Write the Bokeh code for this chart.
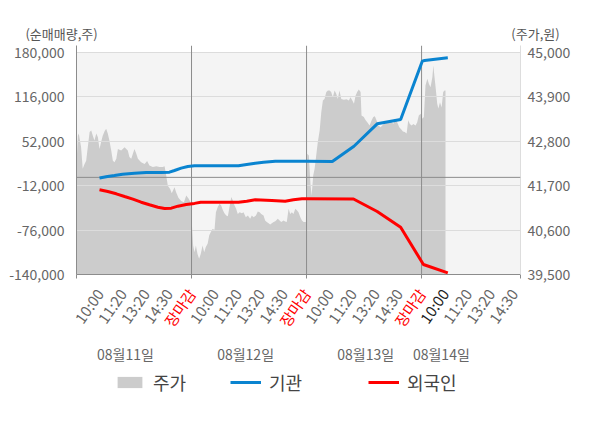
import numpy as np
from bokeh.plotting import figure
from bokeh.layouts import column
from bokeh.models import (Range1d, LinearAxis, FixedTicker, NumeralTickFormatter, Span,
                          BoxAnnotation, ColumnDataSource, Legend, LegendItem)
from bokeh.embed import file_html
from bokeh.resources import INLINE
from bokeh.core.properties import value

FONT = "Noto Sans CJK KR"

# ---------------- data ----------------
dates = ["08월11일", "08월12일", "08월13일", "08월14일"]
day_bounds = [0, 5, 10, 15]
time_labels = ["10:00", "11:20", "13:20", "14:30", "장마감"] * 3 + ["10:00", "11:20", "13:20", "14:30"]
time_pos = list(range(1, 20))
date_pos = [2.13, 7.35, 12.57, 15.86]

left_ticks = [-140000, -76000, -12000, 52000, 116000, 180000]
right_ticks = [39500, 40600, 41700, 42800, 43900, 45000]

price_t = [0.00, 0.06, 0.10, 0.20, 0.27, 0.35, 0.42, 0.49, 0.57, 0.64, 0.71, 0.78, 0.86, 0.93, 1.00, 1.07,
           1.14, 1.22, 1.29, 1.36, 1.43, 1.51, 1.58, 1.65, 1.73, 1.80, 1.94, 2.09, 2.23, 2.30, 2.38, 2.45,
           2.52, 2.60, 2.67, 2.81, 2.96, 3.07, 3.17, 3.32, 3.47, 3.61, 3.75, 3.83, 3.90, 3.97, 4.07, 4.14,
           4.26, 4.33, 4.43, 4.55, 4.67, 4.77, 4.87, 4.96,
           5.01, 5.07, 5.13, 5.19, 5.26, 5.33, 5.40, 5.48, 5.55, 5.62, 5.70, 5.77, 5.84, 5.91, 6.00, 6.06,
           6.14, 6.22, 6.29, 6.36, 6.43, 6.51, 6.58, 6.65, 6.73, 6.80, 6.87, 6.94, 7.01, 7.09, 7.19, 7.26,
           7.36, 7.45, 7.55, 7.62, 7.70, 7.80, 7.88, 7.96, 8.03, 8.13, 8.20, 8.27, 8.35, 8.42, 8.49, 8.57,
           8.64, 8.75, 8.83, 8.90, 9.00, 9.07, 9.14, 9.22, 9.29, 9.36, 9.43, 9.51, 9.58, 9.65, 9.73, 9.80,
           9.87, 9.97,
           10.03, 10.10, 10.17, 10.22, 10.29, 10.35, 10.42, 10.49, 10.57, 10.64, 10.71, 10.78, 10.86, 10.93,
           11.00, 11.07, 11.14, 11.22, 11.29, 11.36, 11.43, 11.51, 11.62, 11.74, 11.84, 11.91, 11.99, 12.06,
           12.13, 12.20, 12.27, 12.35, 12.39, 12.49, 12.57, 12.64, 12.74, 12.83, 12.90, 12.97, 13.04, 13.12,
           13.22, 13.29, 13.36, 13.48, 13.58, 13.65, 13.77, 13.84, 13.94, 14.03, 14.12, 14.19, 14.27, 14.35,
           14.42, 14.49, 14.57, 14.64, 14.74, 14.81, 14.88, 14.96, 15.03, 15.10,
           15.17, 15.25, 15.32, 15.39, 15.47, 15.51, 15.57, 15.61, 15.68, 15.73, 15.80, 15.87, 15.94, 16.00,
           16.04]
price = [42240, 42940, 42990, 42650, 42120, 42240, 42320, 42650, 43030, 43070, 42940, 42820, 42990, 42900,
         42610, 42780, 42940, 43050, 43110, 42990, 42820, 42570, 42320, 42280, 42370, 42610, 42570, 42650,
         42570, 42410, 42370, 42490, 42610, 42490, 42370, 42280, 42240, 42310, 42200, 42160, 42180, 42160,
         42160, 42180, 41950, 41700, 41620, 41510, 41660, 41540, 41400, 41320, 41290, 41460, 41380, 41290,
         40800, 40220, 40050, 40220, 40010, 39890, 40010, 40220, 40050, 40180, 40260, 40470, 40550, 40630,
         40610, 41040, 41170, 41250, 41210, 41100, 41020, 40960, 40940, 41170, 41420, 41330, 41210, 41130,
         41000, 41040, 41020, 41040, 40920, 40960, 40880, 40960, 40920, 40960, 41060, 41040, 41000, 40960,
         40840, 40800, 40770, 40740, 40770, 40800, 40820, 40880, 40840, 40800, 40840, 40810, 40800, 41130,
         41000, 41040, 41000, 41130, 41090, 41040, 40920, 40840, 40800, 40800,
         42490, 42450, 41750, 41450, 41950, 42120, 42450, 42780, 43070, 43520, 43810, 43850, 44020, 44060,
         44060, 44020, 43890, 44060, 43980, 43850, 44060, 43850, 43830, 43840, 43810, 43890, 43810, 43730,
         43930, 44020, 44080, 44020, 43440, 43400, 43320, 43270, 43190, 43320, 43400, 43420, 43320, 43190,
         43150, 43190, 43230, 43270, 43270, 43320, 43230, 43360, 43270, 43150, 43090, 43040, 43030, 42990,
         43320, 43230, 43190, 43230, 43190, 43270, 43440, 43480, 43360, 43400,
         44180, 44350, 44220, 44140, 44390, 44680, 44350, 44140, 43730, 43610, 43770, 43640, 44020, 44060,
         44060]

inst_t = [1.00, 1.35, 1.65, 2.00, 2.52, 3.03, 3.68, 4.04, 4.26, 4.55, 4.84, 5.13, 7.04, 7.40, 7.77, 8.13,
          8.64, 10.00, 11.12, 12.06, 13.07, 14.09, 15.03, 15.13, 16.14]
inst = [-1000, 1300, 2700, 4600, 6000, 7000, 7000, 7500, 9900, 13300, 15700, 16700, 16700, 18600, 20500,
        21900, 23300, 23300, 23000, 44900, 77200, 83400, 167500, 168500, 172300]

frgn_t = [1.00, 1.36, 1.73, 2.09, 2.45, 2.81, 3.17, 3.54, 3.83, 4.12, 4.41, 4.77, 5.13, 5.40, 7.04, 7.40,
          7.77, 8.49, 9.07, 9.43, 9.80, 10.00, 12.04, 13.07, 14.09, 15.08, 16.14]
frgn = [-17900, -20400, -23700, -27600, -31400, -35800, -39500, -43000, -44900, -44400, -41500, -39100,
        -37500, -35800, -35800, -34300, -32300, -33300, -34300, -32300, -30900, -30700, -31200, -49200,
        -71800, -125600, -137600]

# ---------------- geometry ----------------
W = 600
LEFT, FRAME_W, FRAME_H = 76, 444, 229
HEADER_H, CHART_TOP, CHART_BOTTOM = 42, 3, 9
FOOTER_H = 428 - HEADER_H - CHART_TOP - FRAME_H - CHART_BOTTOM
X_END = 19.3
PPS = FRAME_W / X_END  # pixels per slot

GRAY_TXT = "#666666"
AX_LINE = "#8c8c8c"
INST_COLOR, FRGN_COLOR, AREA_COLOR = "#0a84d0", "#ff0000", "#cccccc"


def strip(width, height, xr, yr):
    f = figure(width=width, height=height, x_range=xr, y_range=yr,
               min_border=0, x_axis_type=None, y_axis_type=None, output_backend="svg",
               toolbar_location=None, outline_line_color=None, background_fill_color="white",
               border_fill_color="white", frame_align=False)
    f.grid.visible = False
    return f


# ---------------- header ----------------
hdr = strip(W, HEADER_H, Range1d(0, W), Range1d(HEADER_H, 0))
hdr.text(x=[61, 535], y=[33, 33], text=["(순매매량,주)", "(주가,원)"], text_align="center",
         text_baseline="middle", text_font=value(FONT), text_font_size="13px", text_color="#555555")

# ---------------- chart ----------------
p = figure(frame_width=FRAME_W, frame_height=FRAME_H,
           min_border_left=LEFT, min_border_right=W - LEFT - FRAME_W, min_border_top=CHART_TOP,
           min_border_bottom=CHART_BOTTOM,
           x_range=Range1d(0, X_END), y_range=Range1d(-140000, 190090),
           output_backend="svg", toolbar_location=None, frame_align=False,
           background_fill_color="white", border_fill_color="white", outline_line_color=None)
p.extra_y_ranges = {"price": Range1d(39500, 45173)}

p.add_layout(BoxAnnotation(top=left_ticks[-1], fill_color="#f4f4f4", fill_alpha=1.0,
                           line_color=None, level="image"))

src = ColumnDataSource(dict(t=price_t, price=price))
p.varea(x="t", y1=right_ticks[0], y2="price", source=src, fill_color=AREA_COLOR,
        y_range_name="price", level="underlay")

p.xgrid.visible = False
p.ygrid.grid_line_color = "#dcdcdc"
p.ygrid.level = "glyph"

p.add_layout(Span(location=0, dimension="width", line_color=AX_LINE, line_width=1))
for b in day_bounds[1:]:
    p.add_layout(Span(location=b, dimension="height", line_color=AX_LINE, line_width=1))

p.line(inst_t, inst, line_color=INST_COLOR, line_width=3, level="overlay")
p.line(frgn_t, frgn, line_color=FRGN_COLOR, line_width=3, level="overlay")

ya = p.yaxis[0]
ya.ticker = FixedTicker(ticks=left_ticks)
ya.formatter = NumeralTickFormatter(format="0,0")
ya.major_tick_line_color = None
ya.major_tick_out = 0
ya.minor_tick_line_color = None
ya.axis_line_color = AX_LINE
ya.major_label_standoff = 12
ya.major_label_text_font = FONT
ya.major_label_text_font_size = "14px"
ya.major_label_text_color = GRAY_TXT

ra = LinearAxis(y_range_name="price", ticker=FixedTicker(ticks=right_ticks),
                formatter=NumeralTickFormatter(format="0,0"))
ra.major_tick_line_color = None
ra.major_tick_out = 0
ra.minor_tick_line_color = None
ra.axis_line_color = "#dddddd"
ra.major_label_standoff = 7
ra.major_label_text_font = FONT
ra.major_label_text_font_size = "14px"
ra.major_label_text_color = GRAY_TXT
p.add_layout(ra, "right")

xa = p.xaxis[0]
xticks = day_bounds + [X_END]
xa.ticker = FixedTicker(ticks=xticks)
xa.major_label_overrides = {t: "" for t in xticks}
xa.major_label_text_font_size = "1px"
xa.major_label_standoff = 0
xa.major_tick_out = 4
xa.major_tick_in = 0
xa.major_tick_line_color = AX_LINE
xa.minor_tick_line_color = None
xa.axis_line_color = AX_LINE

# ---------------- footer ----------------
F_TOP = HEADER_H + CHART_TOP + FRAME_H + CHART_BOTTOM  # page y of footer top
ftr = strip(W, FOOTER_H, Range1d(-LEFT / PPS, (W - LEFT) / PPS), Range1d(FOOTER_H, 0))

colors = []
for i, t in enumerate(time_labels):
    if t == "장마감":
        colors.append("#ff0000")
    elif i == 15:
        colors.append("#222222")
    else:
        colors.append(GRAY_TXT)
tsrc = ColumnDataSource(dict(x=time_pos, text=time_labels, color=colors))
ftr.text(x="x", y=290 - F_TOP, text="text", source=tsrc, angle=55, angle_units="deg",
         text_align="right", text_baseline="middle", text_color="color",
         text_font=value(FONT), text_font_size="15px")

ftr.text(x=date_pos, y=353 - F_TOP, text=dates, text_align="center", text_baseline="middle",
         text_font=value(FONT), text_font_size="14px", text_color=GRAY_TXT)

nan = float("nan")
la = ftr.varea(x=[0, 1], y1=[nan, nan], y2=[nan, nan], fill_color=AREA_COLOR)
lb = ftr.line(x=[0, 1], y=[nan, nan], line_color=INST_COLOR, line_width=3)
lc = ftr.line(x=[0, 1], y=[nan, nan], line_color=FRGN_COLOR, line_width=3)
items = [LegendItem(label="주가", renderers=[la]),
         LegendItem(label="기관", renderers=[lb]),
         LegendItem(label="외국인", renderers=[lc])]
locs = [(114, 33), (230, 33), (368, 33)]
for it, loc in zip(items, locs):
    lg = Legend(items=[it], location=loc, orientation="horizontal", glyph_width=31, glyph_height=14,
                label_standoff=8, padding=0, margin=0, spacing=0, border_line_color=None,
                background_fill_alpha=0, label_text_font=FONT, label_text_font_size="18px",
                label_text_color="#444444", label_height=20)
    ftr.add_layout(lg, "center")

layout = column(hdr, p, ftr, spacing=0)
open("out.html", "w").write(file_html(layout, INLINE))
